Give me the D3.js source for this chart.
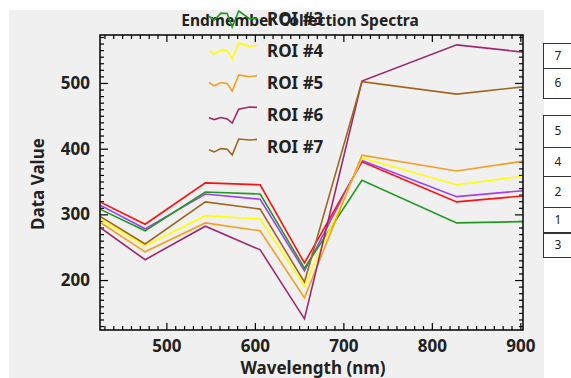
<!DOCTYPE html>
<html>
    <head>
        <title>Endmember Collection Spectra</title>
        <style>
        html, body{
            margin: 0;
            border: 0;
            background: white;
        }
        svg{
            display: block;
        }
        text{
            font-family: "Noto Sans", "Open Sans", sans-serif;
        }
        </style>
    </head>
    <body>
        <svg width="571" height="378"></svg>

        <script src="https://cdnjs.cloudflare.com/ajax/libs/d3/7.8.5/d3.min.js"></script>
        <script>
            // band centres (nm)
            let wavelengths = [425, 476, 544, 606, 656, 721, 828, 903];

            let roiNames = ["ROI #1", "ROI #2", "ROI #3", "ROI #4", "ROI #5", "ROI #6", "ROI #7"];
            let roiColors = ["#ff1010", "#a040f0", "#229a22", "#ffff00", "#f4a020", "#a0286e", "#a0661e"];

            let roi1 = [319, 285, 348, 345, 226, 380, 319, 328];
            let roi2 = [314, 278, 331, 323, 214, 382, 327, 336];
            let roi3 = [308, 275, 334, 331, 218, 352, 287, 289];
            let roi4 = [293, 252, 298, 293, 191, 386, 345, 358];
            let roi5 = [288, 243, 287, 275, 173, 390, 366, 381];
            let roi6 = [280, 231, 282, 246, 141, 503, 558, 547];
            let roi7 = [297, 255, 319, 308, 197, 502, 483, 494];
            let allRois = [roi1, roi2, roi3, roi4, roi5, roi6, roi7];

            let xTicks = [500, 600, 700, 800, 900];
            let yTicks = [200, 300, 400, 500];

            // the little numbered boxes on the right
            let boxLabels = ["7", "6", "5", "4", "2", "1", "3"];

            let width = 571;
            let height = 378;
            let margin = {top: 35, right: 48, left: 100, bottom: 48};

            let svg = d3.select("svg");

            // grey panel
            svg.append("rect")
                .attr("x", 9).attr("y", 10)
                .attr("width", 535).attr("height", height - 10)
                .attr("fill", "#f0f0f0");

            let xScale = d3.scaleLinear()
                .domain([425, 903])
                .range([margin.left, width - margin.right]);
            let yScale = d3.scaleLinear()
                .domain([124, 573])
                .range([height - margin.bottom, margin.top]);

            let plotW = width - margin.right - margin.left;
            let plotH = height - margin.bottom - margin.top;

            svg.append("clipPath").attr("id", "plotclip")
                .append("rect")
                .attr("x", margin.left).attr("y", margin.top)
                .attr("width", plotW).attr("height", plotH);

            // axes - ticks point inward, minor every 10
            let xMinor = d3.range(430, 901, 10).filter(d => d % 100 != 0);
            let yMinor = d3.range(130, 571, 10).filter(d => d % 100 != 0);

            function styleAxis(g){
                g.select(".domain").remove();
                g.selectAll("line").attr("stroke", "black").attr("stroke-width", 1.2);
                g.selectAll("text")
                    .attr("fill", "#222")
                    .style("font-size", "17px")
                    .style("font-weight", "bold");
            }

            svg.append("g")
                .attr("transform", "translate(0," + (height - margin.bottom) + ")")
                .call(d3.axisBottom(xScale).tickValues(xTicks).tickSizeInner(-7).tickSizeOuter(0).tickPadding(10))
                .call(styleAxis);
            svg.append("g")
                .attr("transform", "translate(0," + (height - margin.bottom) + ")")
                .call(d3.axisBottom(xScale).tickValues(xMinor).tickSize(-4).tickFormat(""))
                .call(styleAxis);
            svg.append("g")
                .attr("transform", "translate(0," + margin.top + ")")
                .call(d3.axisTop(xScale).tickValues(xTicks).tickSize(-7).tickFormat(""))
                .call(styleAxis);
            svg.append("g")
                .attr("transform", "translate(0," + margin.top + ")")
                .call(d3.axisTop(xScale).tickValues(xMinor).tickSize(-4).tickFormat(""))
                .call(styleAxis);

            svg.append("g")
                .attr("transform", "translate(" + margin.left + ",0)")
                .call(d3.axisLeft(yScale).tickValues(yTicks).tickSizeInner(-8).tickSizeOuter(0).tickPadding(10))
                .call(styleAxis);
            svg.append("g")
                .attr("transform", "translate(" + margin.left + ",0)")
                .call(d3.axisLeft(yScale).tickValues(yMinor).tickSize(-4).tickFormat(""))
                .call(styleAxis);
            svg.append("g")
                .attr("transform", "translate(" + (width - margin.right) + ",0)")
                .call(d3.axisRight(yScale).tickValues(yTicks).tickSize(-8).tickFormat(""))
                .call(styleAxis);
            svg.append("g")
                .attr("transform", "translate(" + (width - margin.right) + ",0)")
                .call(d3.axisRight(yScale).tickValues(yMinor).tickSize(-4).tickFormat(""))
                .call(styleAxis);

            // spectra
            let line = d3.line()
                .x((d, i) => xScale(wavelengths[i]))
                .y(d => yScale(d));

            svg.append("g")
                .attr("clip-path", "url(#plotclip)")
                .selectAll("path")
                .data(allRois)
                .enter()
                .append("path")
                .attr("d", d => line(d))
                .attr("fill", "none")
                .attr("stroke", (d, i) => roiColors[i])
                .attr("stroke-width", 1.6);

            // frame
            svg.append("rect")
                .attr("x", margin.left).attr("y", margin.top)
                .attr("width", plotW).attr("height", plotH)
                .attr("fill", "none")
                .attr("stroke", "black")
                .attr("stroke-width", 1.5);

            // title + axis labels
            svg.append("text")
                .attr("x", 300).attr("y", 26)
                .attr("text-anchor", "middle")
                .attr("fill", "#222")
                .style("font-size", "15.5px")
                .style("font-weight", "bold")
                .text("Endmember Collection Spectra");

            svg.append("text")
                .attr("x", 313).attr("y", 374)
                .attr("text-anchor", "middle")
                .attr("fill", "#222")
                .style("font-size", "17px")
                .style("font-weight", "bold")
                .text("Wavelength (nm)");

            svg.append("text")
                .attr("transform", "translate(44,184) rotate(-90)")
                .attr("text-anchor", "middle")
                .attr("fill", "#222")
                .style("font-size", "17px")
                .style("font-weight", "bold")
                .text("Data Value");

            // legend (scrolled: first two rows sit above the window)
            let rowGap = 32;
            let firstRow = 19 - 2 * rowGap;
            let legend = svg.append("g");
            allRois.forEach((vals, i) => {
                let cy = firstRow + i * rowGap;
                if (cy < 0) return;
                let sx = d3.scaleLinear().domain(d3.extent(wavelengths)).range([209, 257]);
                let sy = d3.scaleLinear().domain(d3.extent(vals)).range([cy + 8, cy - 8]);
                let spark = d3.line()
                    .x((d, j) => sx(wavelengths[j]))
                    .y(d => sy(d));
                legend.append("path")
                    .attr("d", spark(vals))
                    .attr("fill", "none")
                    .attr("stroke", roiColors[i])
                    .attr("stroke-width", 1.6);
                legend.append("text")
                    .attr("x", 267).attr("y", cy)
                    .attr("dy", "0.36em")
                    .attr("fill", "#222")
                    .style("font-size", "17px")
                    .style("font-weight", "bold")
                    .text(roiNames[i]);
            });

            // numbered boxes at the right edge
            let boxTops = [43, 68, 115, 147, 176, 207, 233];
            let boxBottoms = [68, 98, 147, 176, 207, 232, 257];
            let boxes = svg.append("g");
            boxLabels.forEach((lab, i) => {
                boxes.append("rect")
                    .attr("x", 543.5).attr("y", boxTops[i] + 0.5)
                    .attr("width", 40).attr("height", boxBottoms[i] - boxTops[i])
                    .attr("fill", "white")
                    .attr("stroke", "#333")
                    .attr("stroke-width", 1);
                boxes.append("text")
                    .attr("x", 558).attr("y", (boxTops[i] + boxBottoms[i]) / 2)
                    .attr("dy", "0.36em")
                    .attr("text-anchor", "middle")
                    .attr("fill", "#222")
                    .style("font-size", "12px")
                    .text(lab);
            });
        </script>
    </body>
</html>
